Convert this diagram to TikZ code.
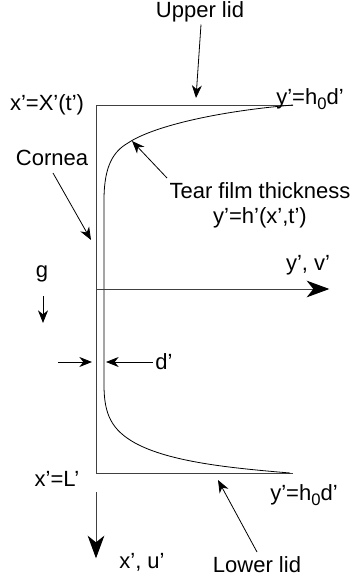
\documentclass[tikz,border=0pt]{standalone}
\usepackage{fontspec}
\setmainfont{Liberation Sans}
\usetikzlibrary{arrows.meta}
\newcommand{\lowsub}[1]{\raisebox{-0.45ex}{\fontsize{12.5}{12.5}\selectfont #1}}

\begin{document}
\begin{tikzpicture}[x=0.75pt,y=-0.75pt,
		lbl/.style={inner sep=0pt, font=\fontsize{16.5}{19}\selectfont},
		note/.style={line width=0.6pt, -{Stealth[length=9.5pt, width=7.5pt, inset=3pt]}},
		axis/.style={line width=0.7pt, black!75, -{Stealth[length=17pt, width=12.5pt, inset=5pt, color=black]}, shorten >=-1pt},
		wall/.style={line width=0.7pt, black!75}]
		\useasboundingbox (0,0) rectangle (357,584);
		% cornea and lids
		\draw[wall] (293,105) -- (96,105) -- (96,473) -- (293,473);
		% film surface
		\draw[line width=0.6pt] (293,105) .. controls (210,112) and (150,128) .. (128,143)
			.. controls (114,151) and (104,165) .. (104,200) -- (104,385)
			.. controls (104,415) and (112,430) .. (135,443)
			.. controls (170,462) and (230,468) .. (290,473);
		% axes
		\coordinate (o) at (96,289);
		\coordinate (ytip) at (328,289);
		\coordinate (xstart) at (96,492);
		\coordinate (xtip) at (96,557);
		\draw[axis] (o) -- (ytip);
		\draw[axis] (xstart) -- (xtip);
		% labels
		\node[lbl] (upper) at (200,12) {Upper lid};
		\node[lbl] (xX) at (47,105) {x’=X’(t’)};
		\node[lbl] (htop) at (310,99) {y’=h\lowsub{0}d’};
		\node[lbl] (cornea) at (52,158) {Cornea};
		\node[lbl, align=center] (tear) at (260,205) {Tear film thickness\\y’=h’(x’,t’)};
		\node[lbl] (yv) at (308,265) {y’, v’};
		\node[lbl] (g) at (42,274) {g};
		\node[lbl] (dp) at (164,362) {d’};
		\node[lbl] (xL) at (57,479) {x’=L’};
		\node[lbl] (hbot) at (304,495) {y’=h\lowsub{0}d’};
		\node[lbl] (xu) at (142,562) {x’, u’};
		\node[lbl] (lower) at (257,565) {Lower lid};
		% pointers
		\coordinate (uppertip) at (196,98);
		\coordinate (corneastart) at (53,173);
		\coordinate (corneatip) at (91,240);
		\coordinate (tearstart) at (167,178);
		\coordinate (teartip) at (132,141);
		\coordinate (gstart) at (43,296);
		\coordinate (gtip) at (43,323);
		\coordinate (dlstart) at (58,362);
		\coordinate (dltip) at (92,362);
		\coordinate (drtip) at (106,362);
		\coordinate (lowerstart) at (257,552);
		\coordinate (lowertip) at (218,480);
		\draw[note] (upper.south) ++(1,2) -- (uppertip);
		\draw[note] (corneastart) -- (corneatip);
		\draw[note] (tearstart) -- (teartip);
		\draw[note] (gstart) -- (gtip);
		\draw[note] (dlstart) -- (dltip);
		\draw[note] (dp.west) ++(-2,0) -- (drtip);
		\draw[note] (lowerstart) -- (lowertip);
	\end{tikzpicture}
\end{document}
